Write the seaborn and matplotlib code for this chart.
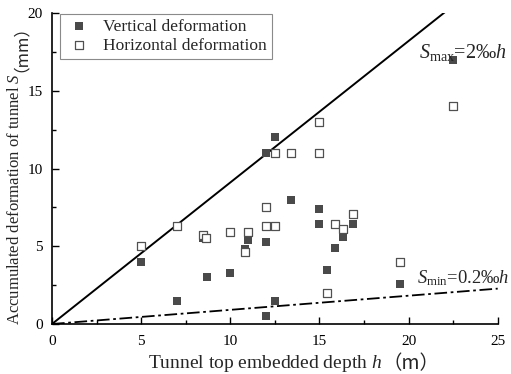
import matplotlib
matplotlib.use("Agg")
import matplotlib.pyplot as plt
import numpy as np
import seaborn as sns
from matplotlib.ticker import MultipleLocator

# data
vert_depth = [5.0, 7.0, 8.45, 8.7, 10.0, 10.8, 11.0, 12.0, 12.0, 12.5, 12.0, 12.5,
              13.4, 15.0, 15.0, 15.4, 15.9, 16.3, 16.9, 19.5, 22.5]
vert_def = [4.0, 1.5, 5.5, 3.0, 3.3, 4.8, 5.4, 5.3, 0.5, 1.5, 11.0, 12.0,
            8.0, 7.4, 6.45, 3.5, 4.9, 5.6, 6.45, 2.6, 17.0]
horz_depth = [5.0, 7.0, 8.45, 8.65, 10.0, 10.8, 11.0, 12.0, 12.0, 12.5, 12.5, 13.4,
              15.0, 15.0, 15.4, 15.9, 16.3, 16.9, 19.5, 22.5]
horz_def = [5.0, 6.3, 5.75, 5.5, 5.9, 4.6, 5.9, 7.5, 6.3, 6.3, 11.0, 11.0,
            13.0, 11.0, 2.0, 6.45, 6.1, 7.1, 4.0, 14.0]

# limit lines (slopes as drawn in the figure)
line_depth = np.array([0.0, 25.0])
smax_slope = 0.91
smin_slope = 0.091

sns.set_style("ticks")
plt.rcParams["font.family"] = ["Liberation Serif", "Noto Sans CJK SC"]
plt.rcParams["mathtext.fontset"] = "custom"
plt.rcParams["mathtext.rm"] = "Liberation Serif"
plt.rcParams["mathtext.it"] = "Liberation Serif:italic"

fig = plt.figure(figsize=(5.11, 3.74), dpi=100)
ax = fig.add_axes([52 / 511, 1 - 324 / 374, 445.7 / 511, 311 / 374])

sns.lineplot(x=line_depth, y=smax_slope * line_depth, color="black", lw=1.4, ax=ax)
sns.lineplot(x=line_depth, y=smin_slope * line_depth, color="black", lw=1.3,
             dashes=False, ax=ax).lines[-1].set_dashes((7, 2, 1.5, 2))

sns.scatterplot(x=vert_depth, y=vert_def, marker="s", s=30, color="#4a4a4a",
                linewidth=0, label="Vertical deformation", ax=ax, zorder=3)
sns.scatterplot(x=horz_depth, y=horz_def, marker="s", s=26, facecolor="white",
                edgecolor="#505050", linewidth=0.9, label="Horizontal deformation",
                ax=ax, zorder=4)

ax.set_xlim(0, 25)
ax.set_ylim(0, 20)
ax.xaxis.set_major_locator(MultipleLocator(5))
ax.xaxis.set_minor_locator(MultipleLocator(2.5))
ax.yaxis.set_major_locator(MultipleLocator(5))
ax.yaxis.set_minor_locator(MultipleLocator(2.5))
ax.tick_params(which="both", direction="in", colors="black", labelsize=11, width=1)
ax.tick_params(which="major", length=5)
ax.tick_params(which="minor", length=3)
ax.tick_params(axis="x", pad=8)
ax.tick_params(axis="y", pad=6.5)
for side in ["top", "right"]:
    ax.spines[side].set_visible(False)
for side in ["left", "bottom"]:
    ax.spines[side].set_color("black")
    ax.spines[side].set_linewidth(1.2)

leg = ax.legend(loc="upper left", bbox_to_anchor=(0.018, 0.998), borderaxespad=0,
                fontsize=12.5, frameon=True, fancybox=False, framealpha=1,
                edgecolor="#8a8a8a", handlelength=1.6, handletextpad=0.6,
                borderpad=0.3, labelspacing=0.15)
leg.get_frame().set_linewidth(0.8)

ax.text(20.6, 17.1, r"$S_{\rm max}$=2‰$h$", fontsize=14.5, va="baseline")
ax.text(20.45, 2.6, r"$S_{\rm min}$=0.2‰$h$", fontsize=13.3, va="baseline")

# axis labels built from pieces so that S, h are italic and the parens fullwidth
xl = fig.text(148 / 511, 1 - 368 / 374, "Tunnel top embedded depth $h$",
              fontsize=14, va="baseline", ha="left")
ax.annotate("（m）", xy=(1, 0), xycoords=xl, fontsize=14, va="bottom", ha="left",
            family=["Noto Sans CJK SC"], annotation_clip=False)
yl = fig.text(23 / 511, 1 - 325 / 374, "Accumulated deformation of tunnel $S$",
              fontsize=12, rotation=90, va="bottom", ha="right")
ax.annotate("（mm）", xy=(1, 1), xycoords=yl, xytext=(-2, 1), textcoords="offset pixels",
            fontsize=12, rotation=90, va="bottom", ha="right",
            family=["Noto Sans CJK SC"], annotation_clip=False)

fig.savefig("out.png", dpi=100)
